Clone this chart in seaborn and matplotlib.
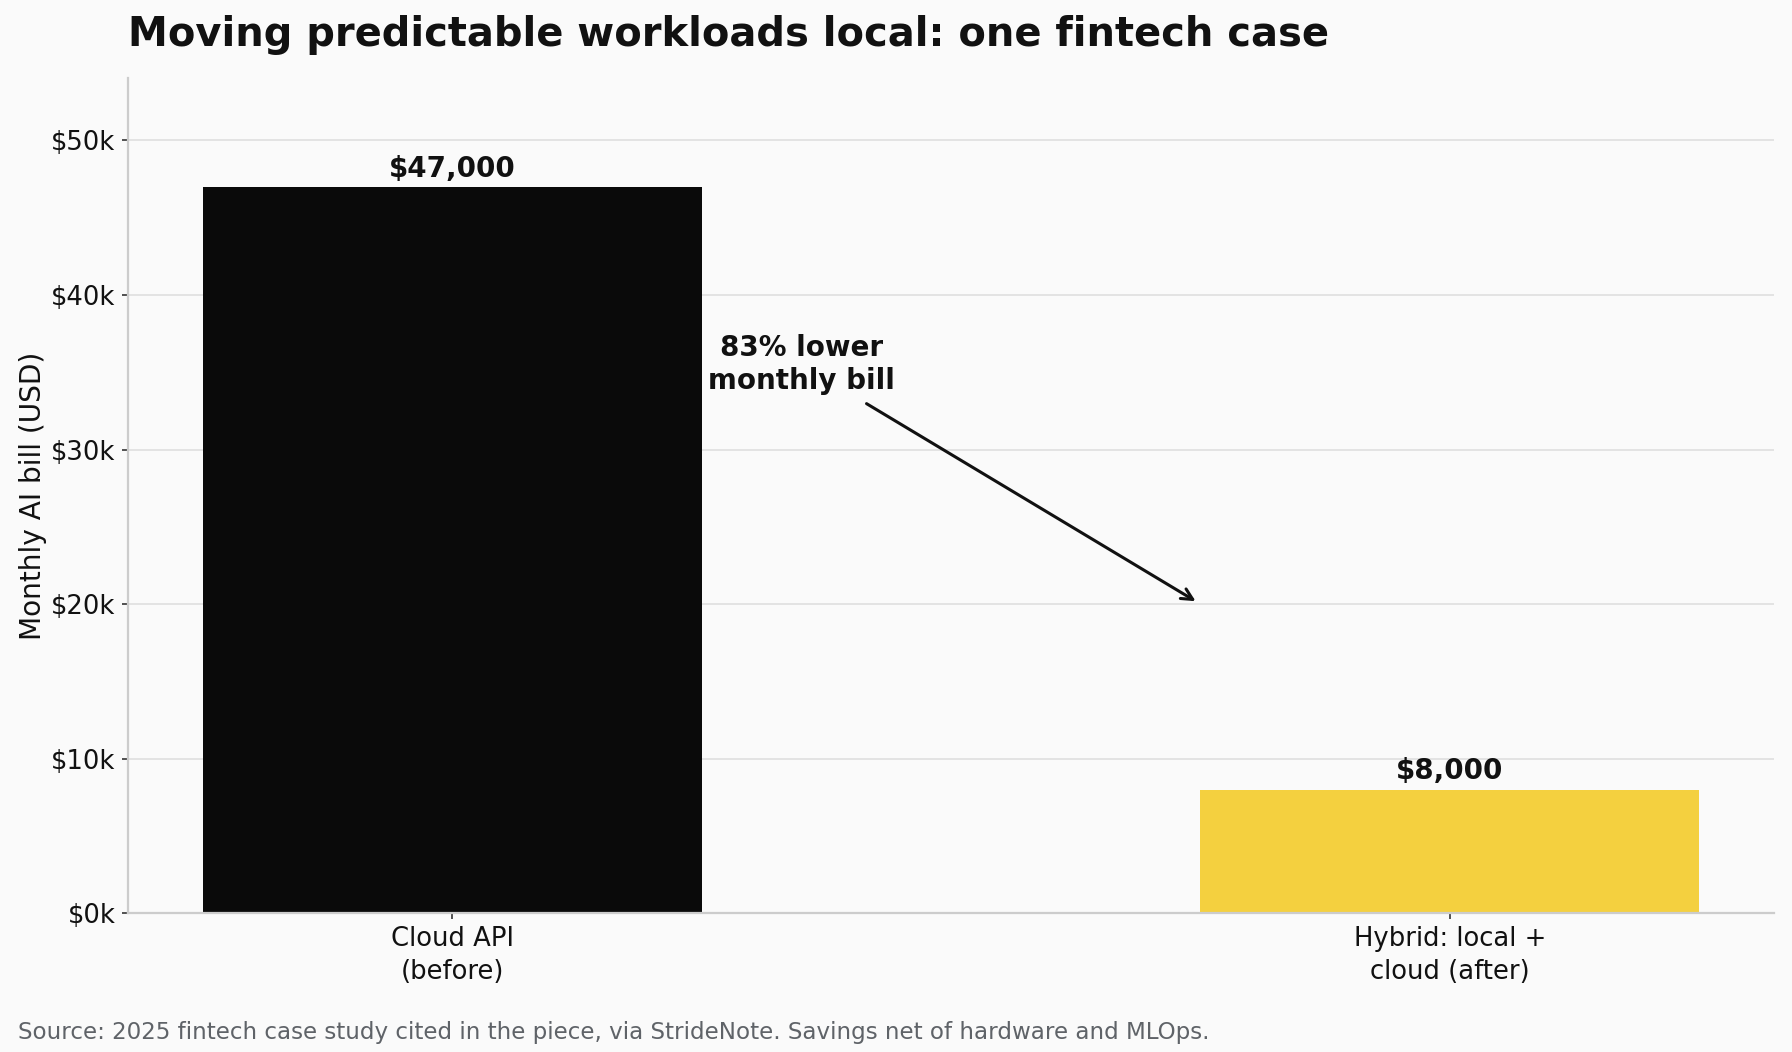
import matplotlib
matplotlib.use("Agg")
import matplotlib.pyplot as plt
import seaborn as sns
import pandas as pd
from matplotlib.ticker import FuncFormatter

# Data
categories = ["Cloud API\n(before)", "Hybrid: local +\ncloud (after)"]
monthly_bill = [47000, 8000]
bar_colors = ["#0a0a0a", "#f4d03f"]

title = "Moving predictable workloads local: one fintech case"
y_label = "Monthly AI bill (USD)"
note = "83% lower\nmonthly bill"
source = "Source: 2025 fintech case study cited in the piece, via StrideNote. Savings net of hardware and MLOps."

df = pd.DataFrame({"scenario": categories, "bill": monthly_bill})

# Style
bg = "#fafafa"
sns.set_theme(style="white", rc={
    "figure.facecolor": bg,
    "axes.facecolor": bg,
    "axes.edgecolor": "#cccccc",
    "axes.linewidth": 0.8,
    "xtick.bottom": True,
    "ytick.left": True,
    "xtick.color": "#333333",
    "ytick.color": "#333333",
    "xtick.major.size": 2,
    "ytick.major.size": 2,
    "xtick.major.pad": 2.5,
    "ytick.major.pad": 2.5,
    "xtick.major.width": 0.6,
    "ytick.major.width": 0.6,
})
plt.rcParams["font.family"] = ["DejaVu Sans"]

fig = plt.figure(figsize=(8.96, 5.26), dpi=200)
ax = fig.add_axes([0.0714, 0.132, 0.9186, 0.794])

sns.barplot(data=df, x="scenario", y="bill", hue="scenario",
            palette=bar_colors, width=0.5, legend=False, ax=ax,
            saturation=1, linewidth=0)

ax.set_xlim(-0.325, 1.325)
ax.set_ylim(0, max(monthly_bill) * 1.15)

# Value labels on the bars
for container in ax.containers:
    ax.bar_label(container, labels=[f"${v:,.0f}" for v in container.datavalues],
                 padding=1.5, fontsize=10, fontweight="bold", color="#111111")

# Arrow annotation
ax.annotate(note, xy=(0.75, 20000), xytext=(0.35, 35500),
            ha="center", va="center", fontsize=10, fontweight="bold",
            color="#111111",
            arrowprops=dict(arrowstyle="->", color="#111111", lw=1.1))

# Axes cosmetics
ax.yaxis.set_major_formatter(FuncFormatter(lambda v, p: f"${v/1000:.0f}k"))
ax.yaxis.grid(True, color="#e3e3e3", linewidth=0.7)
ax.set_axisbelow(True)
sns.despine(ax=ax, top=True, right=True)
ax.set_xlabel("")
ax.set_ylabel(y_label, fontsize=10.1, color="#111111", labelpad=1.5)
ax.tick_params(axis="both", labelsize=9.3, labelcolor="#111111")
for lbl in ax.get_xticklabels():
    lbl.set_linespacing(1.35)

ax.set_title(title, loc="left", fontsize=14.4, fontweight="bold",
             color="#111111", pad=11.5)

fig.text(0.01, 0.019, source, fontsize=8.3, color="#5f6368", ha="left", va="center")

fig.savefig("out.png", dpi=200, facecolor=bg)
